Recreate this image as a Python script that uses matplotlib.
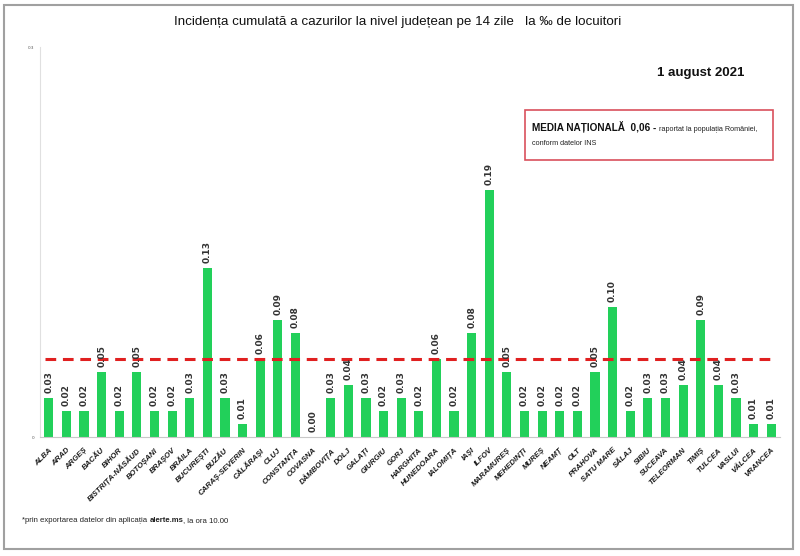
import matplotlib.pyplot as plt
from matplotlib.patches import Rectangle

# date: incidenta cumulata pe judete
judete = ['ALBA', 'ARAD', 'ARGEȘ', 'BACĂU', 'BIHOR', 'BISTRIȚA-NĂSĂUD', 'BOTOȘANI',
          'BRAȘOV', 'BRĂILA', 'BUCUREȘTI', 'BUZĂU', 'CARAȘ-SEVERIN', 'CĂLĂRAȘI', 'CLUJ',
          'CONSTANȚA', 'COVASNA', 'DÂMBOVIȚA', 'DOLJ', 'GALAȚI', 'GIURGIU', 'GORJ',
          'HARGHITA', 'HUNEDOARA', 'IALOMIȚA', 'IAȘI', 'ILFOV', 'MARAMUREȘ', 'MEHEDINȚI',
          'MUREȘ', 'NEAMȚ', 'OLT', 'PRAHOVA', 'SATU MARE', 'SĂLAJ', 'SIBIU', 'SUCEAVA',
          'TELEORMAN', 'TIMIȘ', 'TULCEA', 'VASLUI', 'VÂLCEA', 'VRANCEA']
incidenta = [0.03, 0.02, 0.02, 0.05, 0.02, 0.05, 0.02,
             0.02, 0.03, 0.13, 0.03, 0.01, 0.06, 0.09,
             0.08, 0.00, 0.03, 0.04, 0.03, 0.02, 0.03,
             0.02, 0.06, 0.02, 0.08, 0.19, 0.05, 0.02,
             0.02, 0.02, 0.02, 0.05, 0.10, 0.02, 0.03, 0.03,
             0.04, 0.09, 0.04, 0.03, 0.01, 0.01]
media_nationala = 0.06

plt.rcParams['font.family'] = ['DejaVu Sans']
fam = ['Liberation Sans', 'DejaVu Sans']

fig = plt.figure(figsize=(8, 5.56), dpi=100)
renderer = fig.canvas.get_renderer()


def text_row(x0, y0, parts):
    # scrie mai multe bucati de text pe aceeasi linie de baza
    for s, kw in parts:
        t = fig.text(x0, y0, s, ha='left', va='baseline', family=fam, **kw)
        x0 += t.get_window_extent(renderer).width / fig.bbox.width


# rama gri in jurul imaginii
fig.patches.append(Rectangle((4 / 800, 7 / 556), 789 / 800, 544 / 556, transform=fig.transFigure,
                             fill=False, edgecolor='#a0a0a0', linewidth=1.5))

ax = fig.add_axes([0.05, 0.214, 0.925, 0.7014])
x = range(len(judete))
ax.bar(x, incidenta, width=0.52, color='#22d05a')
ax.set_xlim(-0.5, len(judete) - 0.5)
ax.set_ylim(0, 0.3)

# linia mediei nationale
ax.plot([-0.2, len(judete) - 0.7], [media_nationala, media_nationala], color='#e02020',
        linewidth=2.2, dashes=(3.5, 2.2))

for i, v in enumerate(incidenta):
    ax.text(i, v + 0.004, f'{v:.2f}', rotation=90, ha='center', va='bottom',
            fontsize=6.5, fontweight='bold', color='#333333')

ax.set_xticks(list(x))
ax.set_xticklabels(judete, rotation=45, ha='right', rotation_mode='anchor',
                   fontsize=5.6, fontweight='bold', fontstyle='italic', color='#1a1a1a',
                   family=fam)
ax.tick_params(axis='x', length=0, pad=7)
ax.set_yticks([0, 0.3])
ax.set_yticklabels(['0', '0.3'], fontsize=3, color='#555555')
ax.tick_params(axis='y', length=0, pad=4)
for s in ['top', 'right']:
    ax.spines[s].set_visible(False)
ax.spines['left'].set_color('#e0e0e0')
ax.spines['bottom'].set_color('#c8c8c8')

fig.text(0.4975, 0.96, 'Incidența cumulată a cazurilor la nivel județean pe 14 zile   la ‰ de locuitori',
         ha='center', va='center', fontsize=9.6, family=fam, color='#111111')
fig.text(0.931, 0.868, '1 august 2021', ha='right', va='center', fontsize=9.5,
         fontweight='bold', family=fam, color='#111111')

# caseta media nationala
fig.patches.append(Rectangle((525 / 800, 1 - 160 / 556), 248 / 800, 50 / 556,
                             transform=fig.transFigure, fill=False,
                             edgecolor='#d9505c', linewidth=1.2))
text_row(532 / 800, 1 - 131 / 556, [
    ('MEDIA NAȚIONALĂ  0,06 - ', dict(fontsize=7.2, fontweight='bold', color='#111111')),
    ('raportat la populația României,', dict(fontsize=5.2, color='#222222')),
])
text_row(532 / 800, 1 - 145 / 556, [
    ('conform datelor INS', dict(fontsize=5.2, color='#222222')),
])

# nota de subsol
text_row(22 / 800, 1 - 522 / 556, [
    ('*prin exportarea datelor din aplicația ', dict(fontsize=5.6, color='#222222')),
    ('alerte.ms', dict(fontsize=5.6, fontweight='bold', color='#222222')),
    (', la ora 10.00', dict(fontsize=5.6, color='#222222')),
])

fig.savefig('out.png', dpi=100)
